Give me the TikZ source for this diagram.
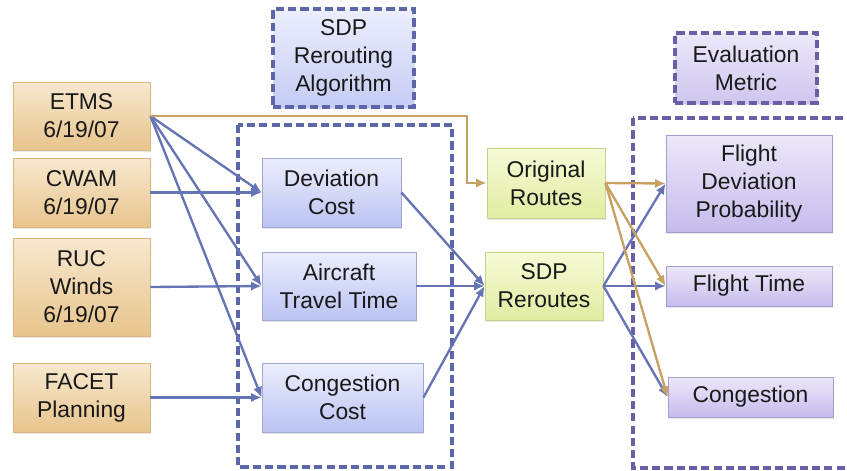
\documentclass[tikz,border=0pt]{standalone}
\usepackage{fontspec}
\setmainfont{Liberation Sans}
\usetikzlibrary{arrows.meta,shadows}

\definecolor{tanTop}{HTML}{F7E8CF}
\definecolor{tanBot}{HTML}{E7C48C}
\definecolor{tanEdge}{HTML}{D9B880}
\definecolor{bluTop}{HTML}{ECEEFD}
\definecolor{bluBot}{HTML}{BBC3F2}
\definecolor{bluEdge}{HTML}{9FA8D9}
\definecolor{grnTop}{HTML}{F6FAD6}
\definecolor{grnBot}{HTML}{E1ECA2}
\definecolor{grnEdge}{HTML}{C8D18E}
\definecolor{purTop}{HTML}{ECE8F9}
\definecolor{purBot}{HTML}{C6BCEC}
\definecolor{purEdge}{HTML}{A59CCF}
\definecolor{frameBlue}{HTML}{5E66AA}
\definecolor{framePur}{HTML}{6A5FA6}
\definecolor{wireBlue}{HTML}{6574B4}
\definecolor{wireTan}{HTML}{C7A064}

\tikzset{
  box/.style={rectangle, inner sep=0pt, align=center, line width=0.7pt,
    font=\fontsize{19.5}{24}\selectfont, text=black!90,
    drop shadow={shadow xshift=1pt, shadow yshift=-1.5pt, opacity=0.2}},
  inbox/.style={box, draw=tanEdge, top color=tanTop, bottom color=tanBot},
  algbox/.style={box, draw=bluEdge, top color=bluTop, bottom color=bluBot},
  routebox/.style={box, draw=grnEdge, top color=grnTop, bottom color=grnBot},
  metricbox/.style={box, draw=purEdge, top color=purTop, bottom color=purBot},
  tagbox/.style={box, line width=2.8pt, dash pattern=on 7pt off 3.5pt},
  dashframe/.style={line width=2.8pt, dash pattern=on 7pt off 3.5pt},
  wire/.style={line width=2pt, draw=wireBlue, -{Latex[length=9pt,width=8pt]}},
  origwire/.style={line width=2pt, draw=wireTan, -{Latex[length=9pt,width=8pt]}}
}

\begin{document}
\begin{tikzpicture}[x=0.03cm, y=-0.03cm]
  \useasboundingbox (0,0) rectangle (847,470);
  \clip (0,0) rectangle (847,470);

  % dashed frames
  \draw [dashframe, frameBlue] (238,125) rectangle (452,467);
  \draw [dashframe, framePur] (633,118) rectangle (880,468);

  % frame titles
  \node [tagbox, draw=frameBlue, top color=bluTop, bottom color=bluBot!85,
    minimum width=4.23cm, minimum height=2.94cm] (sdptag) at (343.5,58)
    {SDP\\Rerouting\\Algorithm};
  \node [tagbox, draw=framePur, top color=purTop, bottom color=purBot!85,
    minimum width=4.26cm, minimum height=2.1cm] (evaltag) at (746,68)
    {Evaluation\\Metric};

  % input data
  \node [inbox, minimum width=4.11cm, minimum height=2.04cm] (etms) at (81.5,116) {ETMS\\6/19/07};
  \node [inbox, minimum width=4.11cm, minimum height=2.07cm] (cwam) at (81.5,192.5) {CWAM\\6/19/07};
  \node [inbox, minimum width=4.11cm, minimum height=2.94cm] (ruc) at (81.5,287) {RUC\\Winds\\6/19/07};
  \node [inbox, minimum width=4.11cm, minimum height=2.07cm] (facet) at (81.5,397.5) {FACET\\Planning};

  % cost terms
  \node [algbox, minimum width=4.17cm, minimum height=2.07cm] (devcost) at (331.5,192.5) {Deviation\\Cost};
  \node [algbox, minimum width=4.62cm, minimum height=2.04cm] (traveltime) at (339,286) {Aircraft\\Travel Time};
  \node [algbox, minimum width=4.83cm, minimum height=2.07cm] (congcost) at (342.5,397.5) {Congestion\\Cost};

  % routes
  \node [routebox, minimum width=3.54cm, minimum height=2.1cm] (origroutes) at (546,183) {Original\\Routes};
  \node [routebox, minimum width=3.54cm, minimum height=2.04cm] (sdproutes) at (544,286) {SDP\\Reroutes};

  % metrics
  \node [metricbox, minimum width=4.98cm, minimum height=2.91cm] (fdp) at (749,183.5) {Flight\\Deviation\\Probability};
  \node [metricbox, minimum width=4.98cm, minimum height=1.2cm] (flighttime) at (749,286) {Flight Time};
  \node [metricbox, minimum width=4.95cm, minimum height=1.2cm] (congestion) at (750.5,397) {Congestion};

  % inputs to cost terms
  \draw [wire] (etms.east) -- (devcost.west);
  \draw [wire] (etms.east) -- (traveltime.west);
  \draw [wire] (etms.east) -- (congcost.west);
  \draw [wire] (cwam.east) -- (devcost.west);
  \draw [wire] (ruc.east) -- (traveltime.west);
  \draw [wire] (facet.east) -- (congcost.west);

  % original flight plans
  \coordinate (drop) at (467,150);
  \draw [origwire] (etms.east) -| (drop) |- (origroutes.west);

  % cost terms to reroutes
  \draw [wire] (devcost.east) -- (sdproutes.west);
  \draw [wire] (traveltime.east) -- (sdproutes.west);
  \draw [wire] (congcost.east) -- (sdproutes.west);

  % routes to metrics
  \draw [wire] (sdproutes.east) -- (fdp.west);
  \draw [wire] (sdproutes.east) -- (flighttime.west);
  \draw [wire] (sdproutes.east) -- (congestion.west);
  \draw [origwire] (origroutes.east) -- (fdp.west);
  \draw [origwire] (origroutes.east) -- (flighttime.west);
  \draw [origwire] (origroutes.east) -- (congestion.west);
\end{tikzpicture}
\end{document}
